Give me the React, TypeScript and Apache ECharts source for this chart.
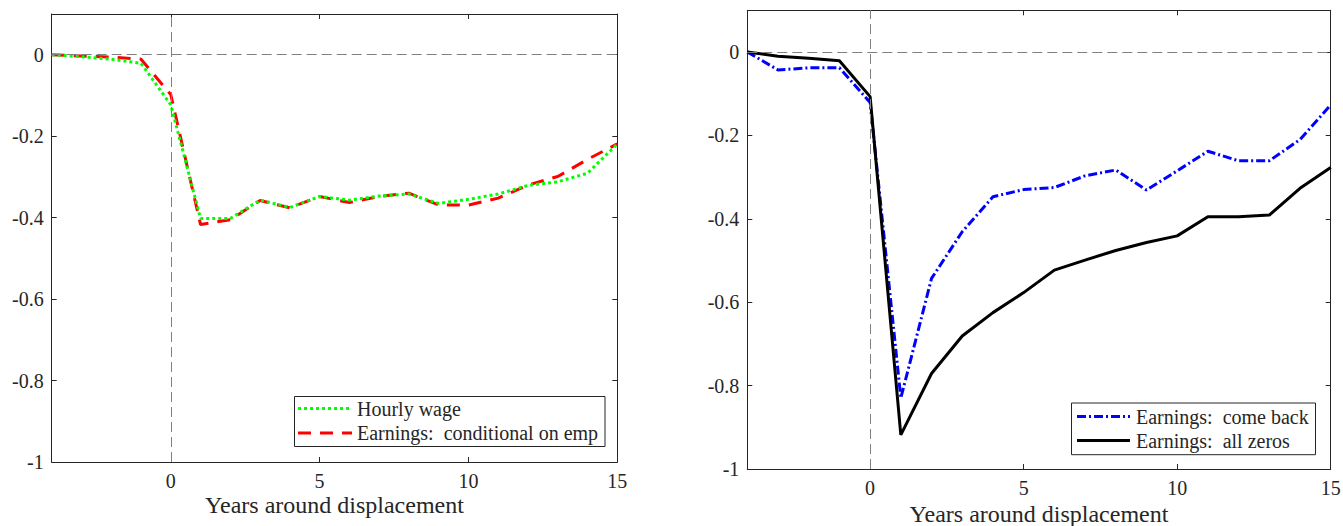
import React, { useEffect, useRef } from "react";
import * as echarts from "echarts";

const years = [-4, -3, -2, -1, 0, 1, 2, 3, 4, 5, 6, 7, 8, 9, 10, 11, 12, 13, 14, 15];
const hourlyWage = [0, -0.005, -0.011, -0.021, -0.123, -0.402, -0.402, -0.357, -0.375, -0.348, -0.357, -0.347, -0.342, -0.365, -0.355, -0.342, -0.321, -0.312, -0.291, -0.219];
const earningsCond = [0, -0.003, -0.006, -0.011, -0.098, -0.417, -0.405, -0.358, -0.376, -0.348, -0.363, -0.348, -0.34, -0.369, -0.369, -0.352, -0.32, -0.299, -0.257, -0.219];
const comeBack = [0, -0.043, -0.038, -0.038, -0.121, -0.83, -0.543, -0.431, -0.347, -0.33, -0.325, -0.297, -0.283, -0.331, -0.285, -0.238, -0.261, -0.261, -0.21, -0.127];
const allZeros = [0, -0.01, -0.015, -0.021, -0.107, -0.918, -0.771, -0.681, -0.625, -0.577, -0.523, -0.499, -0.476, -0.457, -0.441, -0.395, -0.395, -0.391, -0.327, -0.277];

const xTicks = [0, 5, 10, 15];
const yTicks = [-1, -0.8, -0.6, -0.4, -0.2, 0];
const xTitle = "Years around displacement";
const legendLeft = ["Hourly wage", "Earnings:  conditional on emp"];
const legendRight = ["Earnings:  come back", "Earnings:  all zeros"];

const FONT = "'Liberation Serif', 'Times New Roman', serif";
const INK = "#262626";

const STYLES = {
  wage: { color: "#00ff00", width: 3, dash: [3, 3] as any },
  cond: { color: "#ff0000", width: 3, dash: [13, 9] as any },
  back: { color: "#0000ff", width: 3, dash: [9, 3, 2, 3] as any },
  zeros: { color: "#000000", width: 3, dash: "solid" as any },
};

function pairs(vals: number[]) {
  return years.map((x, i) => [x, vals[i]]);
}

function legendBox(
  box: { x: number; y: number; w: number; h: number },
  rows: { y: number; label: string; st: any }[],
  lineX1: number,
  lineX2: number,
  textX: number
) {
  const children: any[] = [
    {
      type: "rect",
      shape: { x: box.x, y: box.y, width: box.w, height: box.h },
      style: { fill: "#ffffff", stroke: INK, lineWidth: 1 },
      z: 100,
    },
  ];
  rows.forEach((r) => {
    children.push({
      type: "line",
      shape: { x1: lineX1, y1: r.y, x2: lineX2, y2: r.y },
      style: {
        stroke: r.st.color,
        lineWidth: r.st.width,
        lineDash: r.st.dash === "solid" ? null : r.st.dash,
      },
      z: 101,
    });
    children.push({
      type: "text",
      x: textX,
      y: r.y,
      style: {
        text: r.label,
        fontFamily: FONT,
        fontSize: 20,
        fill: INK,
        verticalAlign: "middle",
        align: "left",
      },
      z: 101,
    });
  });
  return { type: "group", children };
}

export default function App() {
  const ref = useRef<HTMLDivElement>(null);
  useEffect(() => {
    if (!ref.current) return;
    const chart = echarts.init(ref.current, undefined, { renderer: "svg" });
    const grids = [
      { left: 51.7, top: 14, width: 565.6, height: 448, outerBoundsMode: "none", containLabel: false },
      { left: 747.3, top: 10.3, width: 583.4, height: 458.7, outerBoundsMode: "none", containLabel: false },
    ];
    const xAxes: any[] = [];
    const yAxes: any[] = [];
    grids.forEach((_, g) => {
      xAxes.push({
        type: "value",
        gridIndex: g,
        min: -4,
        max: 15,
        position: "bottom",
        name: xTitle,
        nameLocation: "middle",
        nameGap: g === 0 ? 31 : 32.5,
        nameMoveOverlap: false,
        nameTextStyle: { fontFamily: FONT, fontSize: 24, color: INK },
        axisLine: { show: true, onZero: false, lineStyle: { color: INK, width: 1 } },
        axisTick: { show: true, inside: true, length: 5, customValues: xTicks, lineStyle: { color: INK } },
        axisLabel: { show: true, customValues: xTicks, margin: 9, fontFamily: FONT, fontSize: 20, color: INK },
        splitLine: { show: false },
      });
      xAxes.push({
        type: "value",
        gridIndex: g,
        min: -4,
        max: 15,
        position: "top",
        axisLine: { show: true, onZero: false, lineStyle: { color: INK, width: 1 } },
        axisTick: { show: true, inside: true, length: 5, customValues: xTicks, lineStyle: { color: INK } },
        axisLabel: { show: false },
        splitLine: { show: false },
      });
      yAxes.push({
        type: "value",
        gridIndex: g,
        min: -1,
        max: 0.1,
        position: "left",
        axisLine: { show: true, onZero: false, lineStyle: { color: INK, width: 1 } },
        axisTick: { show: true, inside: true, length: 5, customValues: yTicks, lineStyle: { color: INK } },
        axisLabel: {
          show: true,
          customValues: yTicks,
          margin: 8,
          fontFamily: FONT,
          fontSize: 20,
          color: INK,
          formatter: (v: number) => (Math.abs(v) < 1e-9 ? "0" : String(Math.round(v * 10) / 10)),
        },
        splitLine: { show: false },
      });
      yAxes.push({
        type: "value",
        gridIndex: g,
        min: -1,
        max: 0.1,
        position: "right",
        axisLine: { show: true, onZero: false, lineStyle: { color: INK, width: 1 } },
        axisTick: { show: true, inside: true, length: 5, customValues: yTicks, lineStyle: { color: INK } },
        axisLabel: { show: false },
        splitLine: { show: false },
      });
    });

    const refLines = {
      silent: true,
      symbol: ["none", "none"],
      label: { show: false },
      lineStyle: { color: "#808080", width: 1, type: [10, 5] },
      data: [{ xAxis: 0 }, { yAxis: 0 }],
    };

    const mk = (name: string, vals: number[], axis: number, st: any, z: number, withRef: boolean) => ({
      name,
      type: "line",
      xAxisIndex: axis,
      yAxisIndex: axis,
      data: pairs(vals),
      symbol: "none",
      lineStyle: { color: st.color, width: st.width, type: st.dash },
      itemStyle: { color: st.color },
      markLine: withRef ? refLines : undefined,
      z,
    });

    const option: any = {
      animation: false,
      backgroundColor: "#ffffff",
      grid: grids,
      xAxis: xAxes,
      yAxis: yAxes,
      series: [
        mk(legendLeft[0], hourlyWage, 0, STYLES.wage, 3, false),
        mk(legendLeft[1], earningsCond, 0, STYLES.cond, 2, true),
        mk(legendRight[0], comeBack, 2, STYLES.back, 2, true),
        mk(legendRight[1], allZeros, 2, STYLES.zeros, 3, false),
      ],
      graphic: [
        legendBox(
          { x: 294.5, y: 396.5, w: 310.5, h: 50 },
          [
            { y: 408.5, label: legendLeft[0], st: STYLES.wage },
            { y: 433, label: legendLeft[1], st: STYLES.cond },
          ],
          298,
          352,
          357
        ),
        legendBox(
          { x: 1071.5, y: 403, w: 244, h: 51.7 },
          [
            { y: 416.5, label: legendRight[0], st: STYLES.back },
            { y: 440.5, label: legendRight[1], st: STYLES.zeros },
          ],
          1077,
          1130,
          1136
        ),
      ],
    };
    chart.setOption(option);
    return () => chart.dispose();
  }, []);
  return (
    <div
      ref={ref}
      style={{ position: "fixed", left: 0, top: 0, width: "1343px", height: "526px", background: "#fff" }}
    />
  );
}
